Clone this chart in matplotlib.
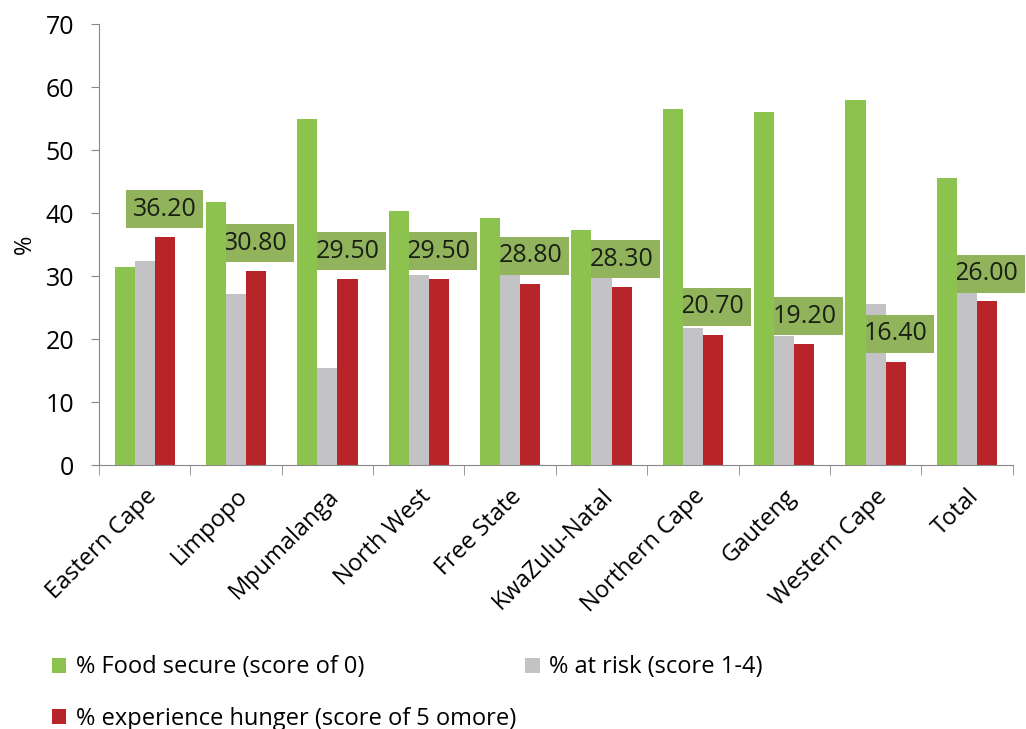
import matplotlib
matplotlib.use("Agg")
import matplotlib.pyplot as plt
import numpy as np

plt.rcParams["font.family"] = ["Open Sans", "DejaVu Sans"]

provinces = ["Eastern Cape", "Limpopo", "Mpumalanga", "North West", "Free State",
             "KwaZulu-Natal", "Northern Cape", "Gauteng", "Western Cape", "Total"]
food_secure = [31.4, 41.8, 55.0, 40.3, 39.2, 37.3, 56.5, 56.0, 57.9, 45.5]
at_risk = [32.4, 27.2, 15.4, 30.1, 30.2, 29.7, 21.8, 20.5, 25.6, 27.3]
hunger = [36.2, 30.8, 29.5, 29.5, 28.8, 28.3, 20.7, 19.2, 16.4, 26.0]

green = "#8cc34e"
grey = "#c3c3c5"
red = "#b7252b"
box_col = "#90b35c"

fig = plt.figure(figsize=(10.26, 7.29), dpi=100)
ax = fig.add_axes([0.0965, 0.362, 0.8905, 0.605])

x = np.arange(len(provinces))
w = 0.22
b_green = ax.bar(x - w, food_secure, w, color=green, zorder=4,
                 label="% Food secure (score of 0)")
b_grey = ax.bar(x, at_risk, w, color=grey, zorder=2,
                label="% at risk (score 1-4)")
b_red = ax.bar(x + w, hunger, w, color=red, zorder=2,
               label="% experience hunger (score of 5 omore)")

# value boxes above the hunger bars
for xi, v in zip(x, hunger):
    ax.annotate("%.2f" % v, (xi + w, v), xytext=(0, 11), textcoords="offset points",
                ha="center", va="bottom", fontsize=18, color="#1a1f14", zorder=3,
                bbox=dict(boxstyle="square,pad=0.26", fc=box_col, ec="none"))

ax.set_xlim(-0.5, len(provinces) - 0.5)
ax.set_ylim(0, 70)
ax.set_yticks(range(0, 71, 10))
ax.tick_params(axis="y", labelsize=18, length=6, color="#888888", pad=12)

ax.set_xticks(x)
ax.set_xticklabels(provinces, rotation=45, ha="right", rotation_mode="anchor",
                   fontsize=17)
ax.tick_params(axis="x", length=0, pad=14)
ax.set_xticks(np.arange(-0.5, len(provinces), 1), minor=True)
ax.tick_params(axis="x", which="minor", length=7, color="#888888")

ax.set_ylabel("%", fontsize=17, labelpad=6)

for s in ["top", "right"]:
    ax.spines[s].set_visible(False)
ax.spines["left"].set_color("#888888")
ax.spines["bottom"].set_color("#888888")

# column-wise fill: green, red in first column, grey in second
fig.legend(handles=[b_green, b_red, b_grey], loc="upper left",
           bbox_to_anchor=(0.03, 0.13), ncol=2, frameon=False, fontsize=17,
           handlelength=0.6, handleheight=0.6, handletextpad=0.4,
           columnspacing=0.4, labelspacing=1.15)

fig.savefig("out.png", dpi=100)
